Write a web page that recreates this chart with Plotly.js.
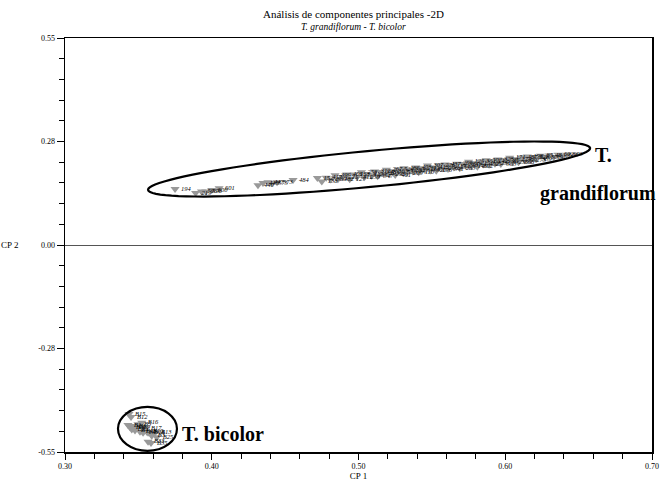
<!DOCTYPE html>
<html>
<head>
<meta charset="utf-8">
<script src="https://cdn.plot.ly/plotly-3.0.1.min.js"></script>
<style>
  html, body { margin: 0; padding: 0; background: #fff; }
  #chart { width: 663px; height: 481px; }
</style>
</head>
<body>
<div id="chart"></div>
<script>
// PCA scores, first two components
const grandiflorumCP1 = [
  0.375, 0.389, 0.393, 0.396, 0.400, 0.405,
  0.4315, 0.4349, 0.4383, 0.4411, 0.4445, 0.4554,
  0.472, 0.475, 0.478, 0.481, 0.484, 0.486, 0.489, 0.492, 0.494, 0.497,
  0.499, 0.502, 0.504, 0.506, 0.509, 0.511, 0.513, 0.515, 0.517, 0.519,
  0.521, 0.523, 0.525, 0.527, 0.529, 0.531, 0.533, 0.535, 0.537, 0.539,
  0.541, 0.543, 0.545, 0.547, 0.549, 0.551, 0.553, 0.555, 0.557, 0.559,
  0.561, 0.563, 0.565, 0.567, 0.569, 0.571, 0.573, 0.575, 0.577, 0.579,
  0.581, 0.583, 0.585, 0.587, 0.589, 0.591, 0.593, 0.595, 0.597, 0.599,
  0.601, 0.603, 0.605, 0.607, 0.609, 0.611, 0.613, 0.615, 0.617, 0.619,
  0.621, 0.624, 0.627, 0.630, 0.633, 0.636, 0.639, 0.642
];
const grandiflorumCP2 = [
  0.149, 0.138, 0.142, 0.142, 0.146, 0.151,
  0.159, 0.165, 0.167, 0.165, 0.167, 0.173,
  0.178, 0.169, 0.179, 0.174, 0.185, 0.175, 0.181, 0.187, 0.175, 0.187,
  0.181, 0.193, 0.180, 0.188, 0.184, 0.195, 0.183, 0.194, 0.189, 0.200,
  0.188, 0.196, 0.186, 0.200, 0.194, 0.204, 0.191, 0.199, 0.195, 0.206,
  0.193, 0.204, 0.200, 0.211, 0.198, 0.206, 0.197, 0.211, 0.204, 0.214,
  0.202, 0.210, 0.206, 0.216, 0.204, 0.215, 0.211, 0.221, 0.209, 0.217,
  0.208, 0.221, 0.214, 0.225, 0.213, 0.221, 0.216, 0.227, 0.215, 0.226,
  0.221, 0.232, 0.220, 0.228, 0.220, 0.232, 0.225, 0.235, 0.225, 0.234,
  0.228, 0.237, 0.233, 0.238, 0.234, 0.240, 0.238, 0.240
];
const grandiflorumIds = [
  "194", "219", "596", "598", "600", "601",
  "440", "445", "447", "575", "573", "484",
  "152", "138", "417", "380", "399", "402", "221", "406", "127", "163",
  "311", "258", "259", "412", "135", "312", "347", "348", "205", "267",
  "298", "363", "401", "524", "530", "186", "209", "362", "377", "403",
  "110", "111", "288", "307", "320", "413", "176", "276", "296", "437",
  "541", "117", "234", "269", "283", "324", "507", "125", "146", "215",
  "302", "351", "452", "502", "95", "142", "231", "323", "503", "520",
  "81", "171", "230", "274", "368", "487", "99", "198", "273", "328",
  "359", "85", "306", "48", "91", "602", "605", "603"
];

const bicolorCP1 = [
  0.3436, 0.3450, 0.3523, 0.3429, 0.3443, 0.3463, 0.3489, 0.3455, 0.3477, 0.3511,
  0.3532, 0.3557, 0.3566, 0.3591, 0.3613, 0.3625, 0.3566, 0.3586, 0.3497, 0.3545
];
const bicolorCP2 = [
  -0.449, -0.457, -0.472, -0.478, -0.484, -0.481, -0.484, -0.490, -0.493, -0.496,
  -0.499, -0.496, -0.499, -0.507, -0.499, -0.511, -0.523, -0.526, -0.476, -0.487
];
const bicolorIds = [
  "B15", "B12", "B16", "B1", "B8", "B6", "B9", "B2", "B4", "B11",
  "B7", "B10", "B14", "B3", "B13", "B25", "B33", "B35", "B5", "B17"
];

const xTicks = [0.30, 0.40, 0.50, 0.60, 0.70];
const xTickText = ["0.30", "0.40", "0.50", "0.60", "0.70"];
const yTicks = [-0.55, -0.275, 0, 0.275, 0.55];
const yTickText = ["-0.55", "-0.28", "0.00", "0.28", "0.55"];

const W = 663, H = 481;
const M = { l: 65, r: 11, t: 38, b: 29 };
const xRange = [0.30, 0.70], yRange = [-0.55, 0.55];
const pxPerX = (W - M.l - M.r) / (xRange[1] - xRange[0]);
const pxPerY = (H - M.t - M.b) / (yRange[1] - yRange[0]);

// tilted outline around the grandiflorum group (built in screen pixels, then mapped to data)
function tiltedEllipse(cx, cy, aPx, bPx, angleDeg) {
  const th = angleDeg * Math.PI / 180;
  let d = "";
  for (let i = 0; i <= 96; i++) {
    const t = 2 * Math.PI * i / 96;
    const ex = aPx * Math.cos(t), ey = bPx * Math.sin(t);
    const dx = ex * Math.cos(th) - ey * Math.sin(th);
    const dy = ex * Math.sin(th) + ey * Math.cos(th);
    const x = cx + dx / pxPerX, y = cy + dy / pxPerY;
    d += (i === 0 ? "M" : "L") + x.toFixed(5) + "," + y.toFixed(5);
  }
  return d + "Z";
}

const serif = "Liberation Serif, Times New Roman, serif";

const traces = [
  {
    type: "scatter", mode: "markers+text",
    x: grandiflorumCP1, y: grandiflorumCP2, text: grandiflorumIds,
    textposition: "middle right",
    textfont: { family: serif, size: 6.5, color: "#000", style: "italic" },
    marker: { symbol: "triangle-down", size: 8, color: "#999999", line: { width: 0 } },
    hoverinfo: "x+y+text", showlegend: false, cliponaxis: false
  },
  {
    type: "scatter", mode: "markers+text",
    x: bicolorCP1, y: bicolorCP2, text: bicolorIds,
    textposition: "middle right",
    textfont: { family: serif, size: 6.5, color: "#000", style: "italic" },
    marker: { symbol: "triangle-down", size: 8, color: "#999999", line: { width: 0 } },
    hoverinfo: "x+y+text", showlegend: false, cliponaxis: false
  }
];

const layout = {
  width: W, height: H,
  margin: M,
  paper_bgcolor: "#fff", plot_bgcolor: "#fff",
  font: { family: serif, color: "#000" },
  showlegend: false,
  xaxis: {
    range: xRange, tickmode: "array", tickvals: xTicks, ticktext: xTickText,
    ticks: "outside", ticklen: 6, tickwidth: 1, tickcolor: "#000",
    minor: { tickmode: "linear", tick0: 0.30, dtick: 0.02, ticks: "outside", ticklen: 5, tickcolor: "#000", showgrid: false },
    tickfont: { family: serif, size: 8, color: "#000" },
    showline: true, linecolor: "#000", linewidth: 1.5, mirror: true,
    showgrid: false, zeroline: false,
    title: { text: "CP 1", font: { family: serif, size: 9, color: "#000" }, standoff: 2 }
  },
  yaxis: {
    range: yRange, tickmode: "array", tickvals: yTicks, ticktext: yTickText,
    ticks: "outside", ticklen: 7, tickwidth: 1, tickcolor: "#000",
    minor: { tickmode: "linear", tick0: -0.55, dtick: 0.055, ticks: "outside", ticklen: 5, tickcolor: "#000", showgrid: false },
    tickfont: { family: serif, size: 8, color: "#000" },
    showline: true, linecolor: "#000", linewidth: 1.5, mirror: true,
    showgrid: false, zeroline: true, zerolinecolor: "#555", zerolinewidth: 1
  },
  shapes: [
    {
      type: "path", xref: "x", yref: "y",
      path: tiltedEllipse(0.5072, 0.2019, 222, 18, 5.4),
      line: { color: "#000", width: 2.2 }, fillcolor: "rgba(0,0,0,0)"
    },
    {
      type: "circle", xref: "x", yref: "y",
      x0: 0.3361, x1: 0.3763, y0: -0.547, y1: -0.430,
      line: { color: "#000", width: 2.2 }, fillcolor: "rgba(0,0,0,0)"
    }
  ],
  annotations: [
    { text: "Análisis de componentes principales -2D", xref: "paper", yref: "paper",
      x: 0.492, y: 1.058, xanchor: "center", yanchor: "middle", showarrow: false,
      font: { family: serif, size: 11, color: "#000" } },
    { text: "<i>T. grandiflorum - T. bicolor</i>", xref: "paper", yref: "paper",
      x: 0.492, y: 1.0266, xanchor: "center", yanchor: "middle", showarrow: false,
      font: { family: serif, size: 9.5, color: "#000" } },
    { text: "CP 2", xref: "paper", yref: "y", x: -0.076, y: 0, xanchor: "right", yanchor: "middle",
      showarrow: false, font: { family: serif, size: 9, color: "#000" } },
    { text: "<b>T.</b>", xref: "x", yref: "y", x: 0.6599, y: 0.239, xanchor: "left", yanchor: "middle",
      showarrow: false, font: { family: serif, size: 20, color: "#000" } },
    { text: "<b>grandiflorum</b>", xref: "x", yref: "y", x: 0.6223, y: 0.138, xanchor: "left", yanchor: "middle",
      showarrow: false, font: { family: serif, size: 20, color: "#000" } },
    { text: "<b>T. bicolor</b>", xref: "x", yref: "y", x: 0.3784, y: -0.502, xanchor: "left", yanchor: "middle",
      showarrow: false, font: { family: serif, size: 20, color: "#000" } }
  ]
};

Plotly.newPlot("chart", traces, layout, { displayModeBar: false, staticPlot: true });
</script>
</body>
</html>
